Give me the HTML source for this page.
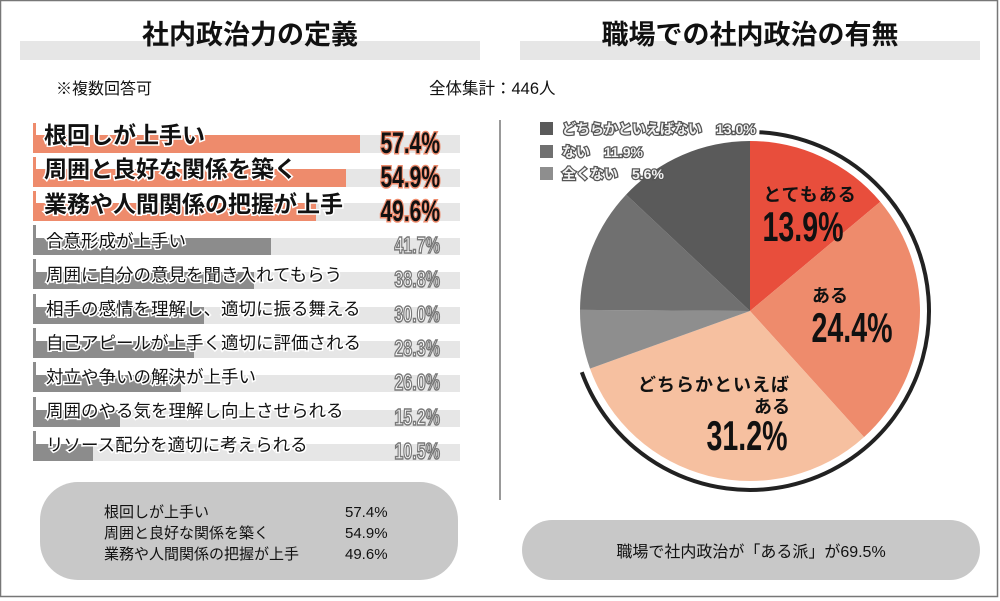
<!DOCTYPE html>
<html><head><meta charset="utf-8"><style>
html,body{margin:0;padding:0;background:#fff}
svg{display:block}
text{font-family:"Liberation Sans","Noto Sans CJK JP",sans-serif}
</style></head><body>
<svg width="1000" height="601" viewBox="0 0 1000 601" xmlns="http://www.w3.org/2000/svg">
<rect x="0.5" y="0.5" width="997" height="596" fill="#fff" stroke="#777" stroke-width="1.5"/>
<!-- titles -->
<rect x="20" y="41" width="460" height="19" fill="#e6e6e6"/>
<rect x="520" y="41" width="460" height="19" fill="#e6e6e6"/>
<text x="250" y="44" font-size="27" font-weight="bold" text-anchor="middle" fill="#111">社内政治力の定義</text>
<text x="750" y="44" font-size="27" font-weight="bold" text-anchor="middle" fill="#111">職場での社内政治の有無</text>
<text x="56" y="94" font-size="16" fill="#111">※複数回答可</text>
<text x="429" y="94" font-size="16.5" fill="#111">全体集計：446人</text>

<g fill="#e6e6e6">
<rect x="33" y="135" width="427" height="18"/><rect x="33" y="169" width="427" height="18"/><rect x="33" y="203" width="427" height="18"/>
<rect x="33" y="238" width="427" height="17"/><rect x="33" y="272" width="427" height="17"/><rect x="33" y="307" width="427" height="17"/>
<rect x="33" y="341" width="427" height="17"/><rect x="33" y="375" width="427" height="17"/><rect x="33" y="410" width="427" height="17"/><rect x="33" y="444" width="427" height="17"/>
</g>
<g fill="#ee8b6c">
<rect x="33" y="135" width="327" height="18"/><rect x="33" y="169" width="313" height="18"/><rect x="33" y="203" width="283" height="18"/>
<rect x="33" y="123" width="3" height="30"/><rect x="33" y="157" width="3" height="30"/><rect x="33" y="191" width="3" height="30"/>
</g>
<g fill="#8c8c8c">
<rect x="33" y="238" width="238" height="17"/><rect x="33" y="272" width="221" height="17"/><rect x="33" y="307" width="171" height="17"/>
<rect x="33" y="341" width="161" height="17"/><rect x="33" y="375" width="148" height="17"/><rect x="33" y="410" width="87" height="17"/><rect x="33" y="444" width="60" height="17"/>
<rect x="33" y="225" width="3" height="30"/><rect x="33" y="259" width="3" height="30"/><rect x="33" y="294" width="3" height="30"/>
<rect x="33" y="328" width="3" height="30"/><rect x="33" y="362" width="3" height="30"/><rect x="33" y="397" width="3" height="30"/><rect x="33" y="431" width="3" height="30"/>
</g>
<g font-size="23" font-weight="bold" fill="#111" stroke="#fff" stroke-width="3" paint-order="stroke">
<text x="44" y="143">根回しが上手い</text>
<text x="44" y="177">周囲と良好な関係を築く</text>
<text x="44" y="212">業務や人間関係の把握が上手</text>
</g>
<g font-size="17.5" fill="#111" stroke="#fff" stroke-width="3" paint-order="stroke">
<text x="46" y="247">合意形成が上手い</text>
<text x="46" y="281">周囲に自分の意見を聞き入れてもらう</text>
<text x="46" y="315">相手の感情を理解し、適切に振る舞える</text>
<text x="46" y="349">自己アピールが上手く適切に評価される</text>
<text x="46" y="383">対立や争いの解決が上手い</text>
<text x="46" y="417">周囲のやる気を理解し向上させられる</text>
<text x="46" y="451">リソース配分を適切に考えられる</text>
</g>
<g font-size="30" font-weight="bold" fill="#111" stroke="#ee8b6c" stroke-width="3" paint-order="stroke" text-anchor="end">
<text transform="translate(440,153) scale(0.7,1)">57.4%</text>
<text transform="translate(440,187) scale(0.7,1)">54.9%</text>
<text transform="translate(440,221) scale(0.7,1)">49.6%</text>
</g>
<g font-size="23" font-weight="bold" fill="#fff" stroke="#777" stroke-width="1.6" text-anchor="end">
<text transform="translate(440,253) scale(0.7,1)">41.7%</text>
<text transform="translate(440,287) scale(0.7,1)">38.8%</text>
<text transform="translate(440,322) scale(0.7,1)">30.0%</text>
<text transform="translate(440,356) scale(0.7,1)">28.3%</text>
<text transform="translate(440,390) scale(0.7,1)">26.0%</text>
<text transform="translate(440,425) scale(0.7,1)">15.2%</text>
<text transform="translate(440,459) scale(0.7,1)">10.5%</text>
</g>

<line x1="500" y1="120" x2="500" y2="500" stroke="#999" stroke-width="2"/>

<path d="M750,311 L750,141 A170,170 0 0 1 880.3,201.8 Z" fill="#e84e3c"/>
<path d="M750,311 L880.3,201.8 A170,170 0 0 1 864,437.1 Z" fill="#ee8b6c"/>
<path d="M750,311 L864,437.1 A170,170 0 0 1 590,368.6 Z" fill="#f6c0a0"/>
<path d="M750,311 L590,368.6 A170,170 0 0 1 580,309.9 Z" fill="#8e8e8e"/>
<path d="M750,311 L580,309.9 A170,170 0 0 1 626.1,194.6 Z" fill="#707070"/>
<path d="M750,311 L626.1,194.6 A170,170 0 0 1 750,141 Z" fill="#5a5a5a"/>
<path d="M759.4,132.2 A179,179 0 1 1 581.8,372.2" fill="none" stroke="#222" stroke-width="4"/>

<g fill="#111" font-weight="bold">
<text x="810" y="201" font-size="18" text-anchor="middle" letter-spacing="1">とてもある</text>
<text transform="translate(803,241) scale(0.68,1)" font-size="42" text-anchor="middle">13.9%</text>
<text x="830" y="302" font-size="18" text-anchor="middle">ある</text>
<text transform="translate(852,342) scale(0.68,1)" font-size="42" text-anchor="middle">24.4%</text>
<text x="790" y="391" font-size="18" text-anchor="end" letter-spacing="1">どちらかといえば</text>
<text x="790" y="413" font-size="18" text-anchor="end">ある</text>
<text transform="translate(747,450) scale(0.68,1)" font-size="42" text-anchor="middle">31.2%</text>
</g>

<rect x="540" y="122" width="13" height="13" fill="#5a5a5a"/>
<rect x="540" y="145" width="13" height="13" fill="#707070"/>
<rect x="540" y="167" width="13" height="13" fill="#8e8e8e"/>
<g font-size="14" font-weight="bold" fill="#f2f2f2" stroke="#555" stroke-width="2.5" paint-order="stroke">
<text x="562" y="134">どちらかといえばない　13.0%</text>
<text x="562" y="157">ない　11.9%</text>
<text x="562" y="179">全くない　5.6%</text>
</g>

<rect x="40" y="482" width="418" height="98" rx="38" fill="#c8c8c8"/>
<g font-size="15" fill="#111">
<text x="104" y="517">根回しが上手い</text><text x="345" y="517">57.4%</text>
<text x="104" y="538">周囲と良好な関係を築く</text><text x="345" y="538">54.9%</text>
<text x="104" y="559">業務や人間関係の把握が上手</text><text x="345" y="559">49.6%</text>
</g>
<rect x="522" y="520" width="458" height="60" rx="30" fill="#c8c8c8"/>
<text x="751" y="557" font-size="16" fill="#111" text-anchor="middle">職場で社内政治が「ある派」が69.5%</text>
</svg>
</body></html>
